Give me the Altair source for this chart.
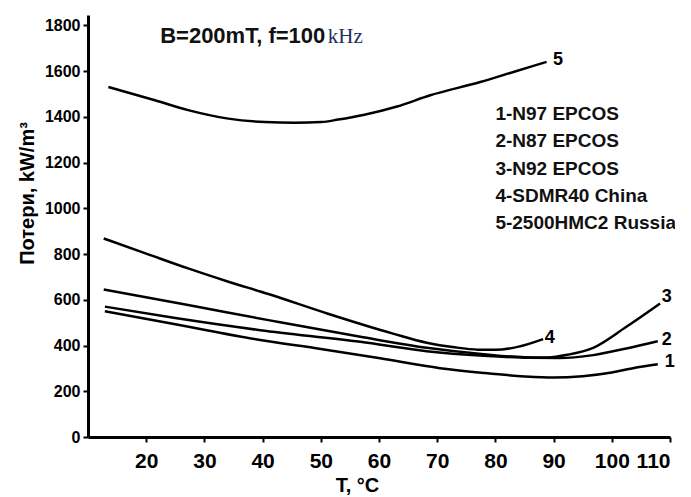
import altair as alt
import pandas as pd

# ---- data (T in °C, losses in kW/m^3) ----
T1 = [12.9, 25, 39.6, 50, 60.2, 70.5, 78, 85, 90, 95, 100, 104, 107.9]
P1 = [550, 493, 424, 385, 344, 301, 280, 265, 260, 266, 282, 303, 318]

T2 = [12.9, 25, 39.6, 56.8, 68.2, 78, 86, 91, 96.8, 102.5, 107.9]
P2 = [570, 520, 467, 416, 375, 355, 346, 345, 358, 387, 419]

T3 = [12.7, 27.2, 41, 56.8, 68.2, 78, 85, 89, 92.5, 96.8, 102.5, 108.3]
P3 = [645, 577, 511, 438, 390, 362, 349, 348, 360, 390, 482, 584]

T4 = [12.7, 20, 27.2, 34, 41, 51.1, 62.4, 68.2, 73, 77, 80, 84, 88.2]
P4 = [868, 802, 737, 680, 625, 540, 452, 412, 392, 382, 381, 395, 428]

T5 = [13.5, 21.5, 27.2, 34.1, 40.4, 45.5, 50.1, 53.0, 57.3, 63.1, 68.8, 77.4, 83.1, 88.8]
P5 = [1530, 1472, 1429, 1392, 1377, 1374, 1377, 1388, 1408, 1445, 1494, 1552, 1596, 1640]

curve_names = ["1", "2", "3", "4", "5"]
curve_T = [T1, T2, T3, T4, T5]
curve_P = [P1, P2, P3, P4, P5]

# curve number labels at the line ends
end_label = ["1", "2", "3", "4", "5"]
end_T = [109.1, 108.6, 108.6, 88.5, 89.9]
end_P = [328, 424, 612, 432, 1647]

# legend text block
legend_text = ["1-N97 EPCOS", "2-N87 EPCOS", "3-N92 EPCOS", "4-SDMR40 China", "5-2500HMC2 Russia"]
legend_T = [80.0, 80.0, 80.0, 80.0, 80.0]
legend_P = [1385, 1267, 1145, 1027, 909]

# condition header
head_text = ["B=200mT, f=100"]
head_T = [22.4]
head_P = [1722]
unit_text = ["kHz"]
unit_T = [51.2]
unit_P = [1722]

x_ticks = [20, 30, 40, 50, 60, 70, 80, 90, 100, 110]
y_ticks = [0, 200, 400, 600, 800, 1000, 1200, 1400, 1600, 1800]

rows = []
for name, ts, ps in zip(curve_names, curve_T, curve_P):
    for t, p in zip(ts, ps):
        rows.append({"curve": name, "T": t, "P": p})
df = pd.DataFrame(rows)

df_end = pd.DataFrame({"label": end_label, "T": end_T, "P": end_P})
df_leg = pd.DataFrame({"label": legend_text, "T": legend_T, "P": legend_P})
df_head = pd.DataFrame({"label": head_text, "T": head_T, "P": head_P})
df_unit = pd.DataFrame({"label": unit_text, "T": unit_T, "P": unit_P})

SANS = "Liberation Sans, Arial, sans-serif"

xs = alt.Scale(domain=[10, 110], nice=False, zero=False)
ys = alt.Scale(domain=[0, 1845], nice=False, zero=False)

x_enc = alt.X(
    "T:Q", scale=xs,
    axis=alt.Axis(values=x_ticks, format="d", labelOverlap=False, title="T, °C",
                  labelFontSize=21, labelPadding=8,
                  titleFontSize=20, titleX=269, titleY=54, titleBaseline="alphabetic"),
)
y_enc = alt.Y(
    "P:Q", scale=ys,
    axis=alt.Axis(values=y_ticks, format="d", labelOverlap=False, title="Потери, kW/m³",
                  labelFontSize=16, labelPadding=3,
                  titleFontSize=20, titleX=-55, titleY=178, titleBaseline="alphabetic",
                  titleAngle=-90),
)

lines = alt.Chart(df).mark_line(color="black", interpolate="monotone").encode(
    x=x_enc,
    y=y_enc,
    detail="curve:N",
    strokeWidth=alt.StrokeWidth("curve:N", scale=alt.Scale(domain=curve_names, range=[2.5, 2.5, 2.5, 2.5, 4.2]), legend=None),
)

ends = alt.Chart(df_end).mark_text(align="left", baseline="middle", font=SANS, fontWeight="bold",
                                    fontSize=18, color="black").encode(
    x=alt.X("T:Q", scale=xs), y=alt.Y("P:Q", scale=ys), text="label:N")

leg = alt.Chart(df_leg).mark_text(align="left", baseline="alphabetic", font=SANS, fontWeight="bold",
                                   fontSize=19, color="#111111").encode(
    x=alt.X("T:Q", scale=xs), y=alt.Y("P:Q", scale=ys), text="label:N")

head = alt.Chart(df_head).mark_text(align="left", baseline="alphabetic", font=SANS, fontWeight="bold",
                                     fontSize=22, color="#111111").encode(
    x=alt.X("T:Q", scale=xs), y=alt.Y("P:Q", scale=ys), text="label:N")

unit = alt.Chart(df_unit).mark_text(align="left", baseline="alphabetic", font="Liberation Serif, Times New Roman, serif",
                                     fontSize=21, color="#1f2f5f").encode(
    x=alt.X("T:Q", scale=xs), y=alt.Y("P:Q", scale=ys), text="label:N")

chart = (
    alt.layer(lines, ends, leg, head, unit)
    .properties(width=582, height=422, autosize=alt.AutoSizeParams(type="none"),
                padding={"left": 80, "top": 7, "right": 5, "bottom": 60}, background="white")
    .configure_view(stroke=None)
    .configure_axis(domainColor="black", domainWidth=3, tickColor="black", tickWidth=2, tickSize=5,
                    labelColor="black", labelFont=SANS, labelFontWeight="bold",
                    titleColor="black", titleFont=SANS, titleFontWeight="bold", grid=False)
)

chart.save("out.html", embed_options={"renderer": "svg", "actions": False})
